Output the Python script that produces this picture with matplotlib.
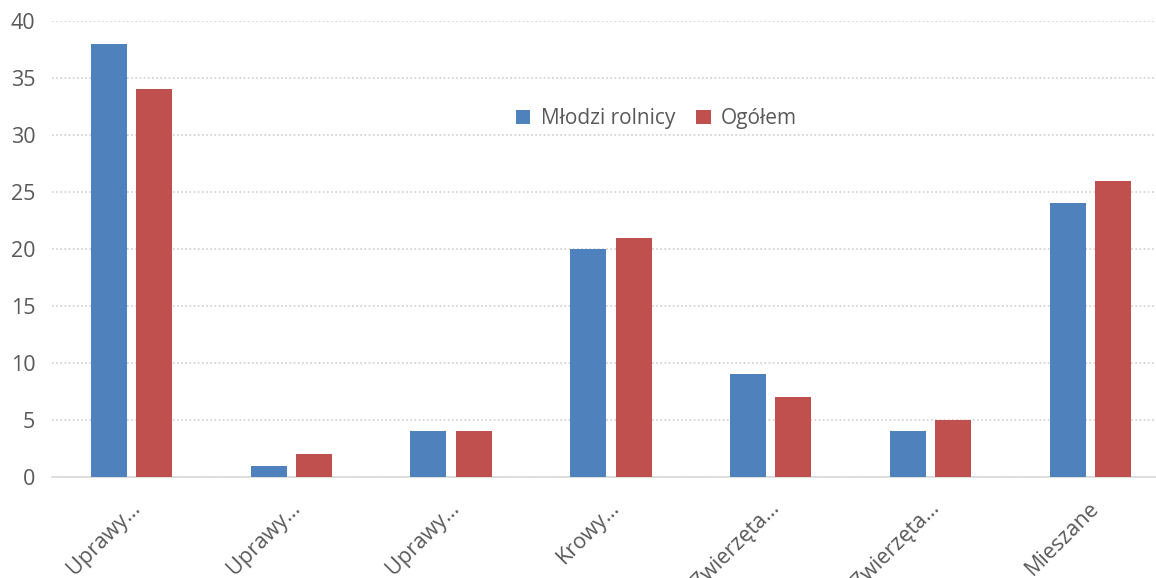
import numpy as np
import matplotlib.pyplot as plt
from matplotlib.transforms import ScaledTranslation

categories = ["Uprawy…", "Uprawy…", "Uprawy…", "Krowy…", "Zwierzęta…", "Zwierzęta…", "Mieszane"]
mlodzi = [38, 1, 4, 20, 9, 4, 24]
ogolem = [34, 2, 4, 21, 7, 5, 26]

blue = "#4F81BD"
red = "#C0504D"
grey_txt = "#595959"

plt.rcParams['font.family'] = ['Open Sans', 'DejaVu Sans']

fig = plt.figure(figsize=(11.56, 5.78), dpi=100)
ax = fig.add_axes([52 / 1156, 1 - 477 / 578, 1 - 52 / 1156, (477 - 21) / 578])

x = np.arange(len(categories))
w = 0.225
ax.bar(x - 0.145, mlodzi, w, color=blue, label="Młodzi rolnicy", zorder=3)
ax.bar(x + 0.14, ogolem, w, color=red, label="Ogółem", zorder=3)

ax.set_ylim(0, 40)
ax.set_xlim(-0.5, -0.5 + 1104 / 159.8)
ax.set_yticks(range(0, 41, 5))
ax.yaxis.grid(True, color="#D0D0D0", linestyle=(0, (1, 1.5)), linewidth=1.2, zorder=0)
for s in ["top", "right", "left"]:
    ax.spines[s].set_visible(False)
ax.spines["bottom"].set_color("#D9D9D9")
ax.spines["bottom"].set_linewidth(1.2)
ax.tick_params(axis="both", length=0, labelsize=15.5, colors=grey_txt)
ax.tick_params(axis="y", pad=12)

ax.set_xticks(x)
ax.set_xticklabels(categories, rotation=45, ha="right", va="center", rotation_mode="anchor")
offset = ScaledTranslation(5 / 100, -23 / 100, fig.dpi_scale_trans)
for lab in ax.get_xticklabels():
    lab.set_transform(lab.get_transform() + offset)

ax.legend(loc="center left", bbox_to_anchor=(497 / 1156, 1 - 119 / 578),
          bbox_transform=fig.transFigure, frameon=False, ncol=2, fontsize=15,
          handlelength=0.7, handleheight=0.7, handletextpad=0.5, columnspacing=1.0,
          labelcolor=grey_txt)

fig.savefig("out.png", dpi=100)
